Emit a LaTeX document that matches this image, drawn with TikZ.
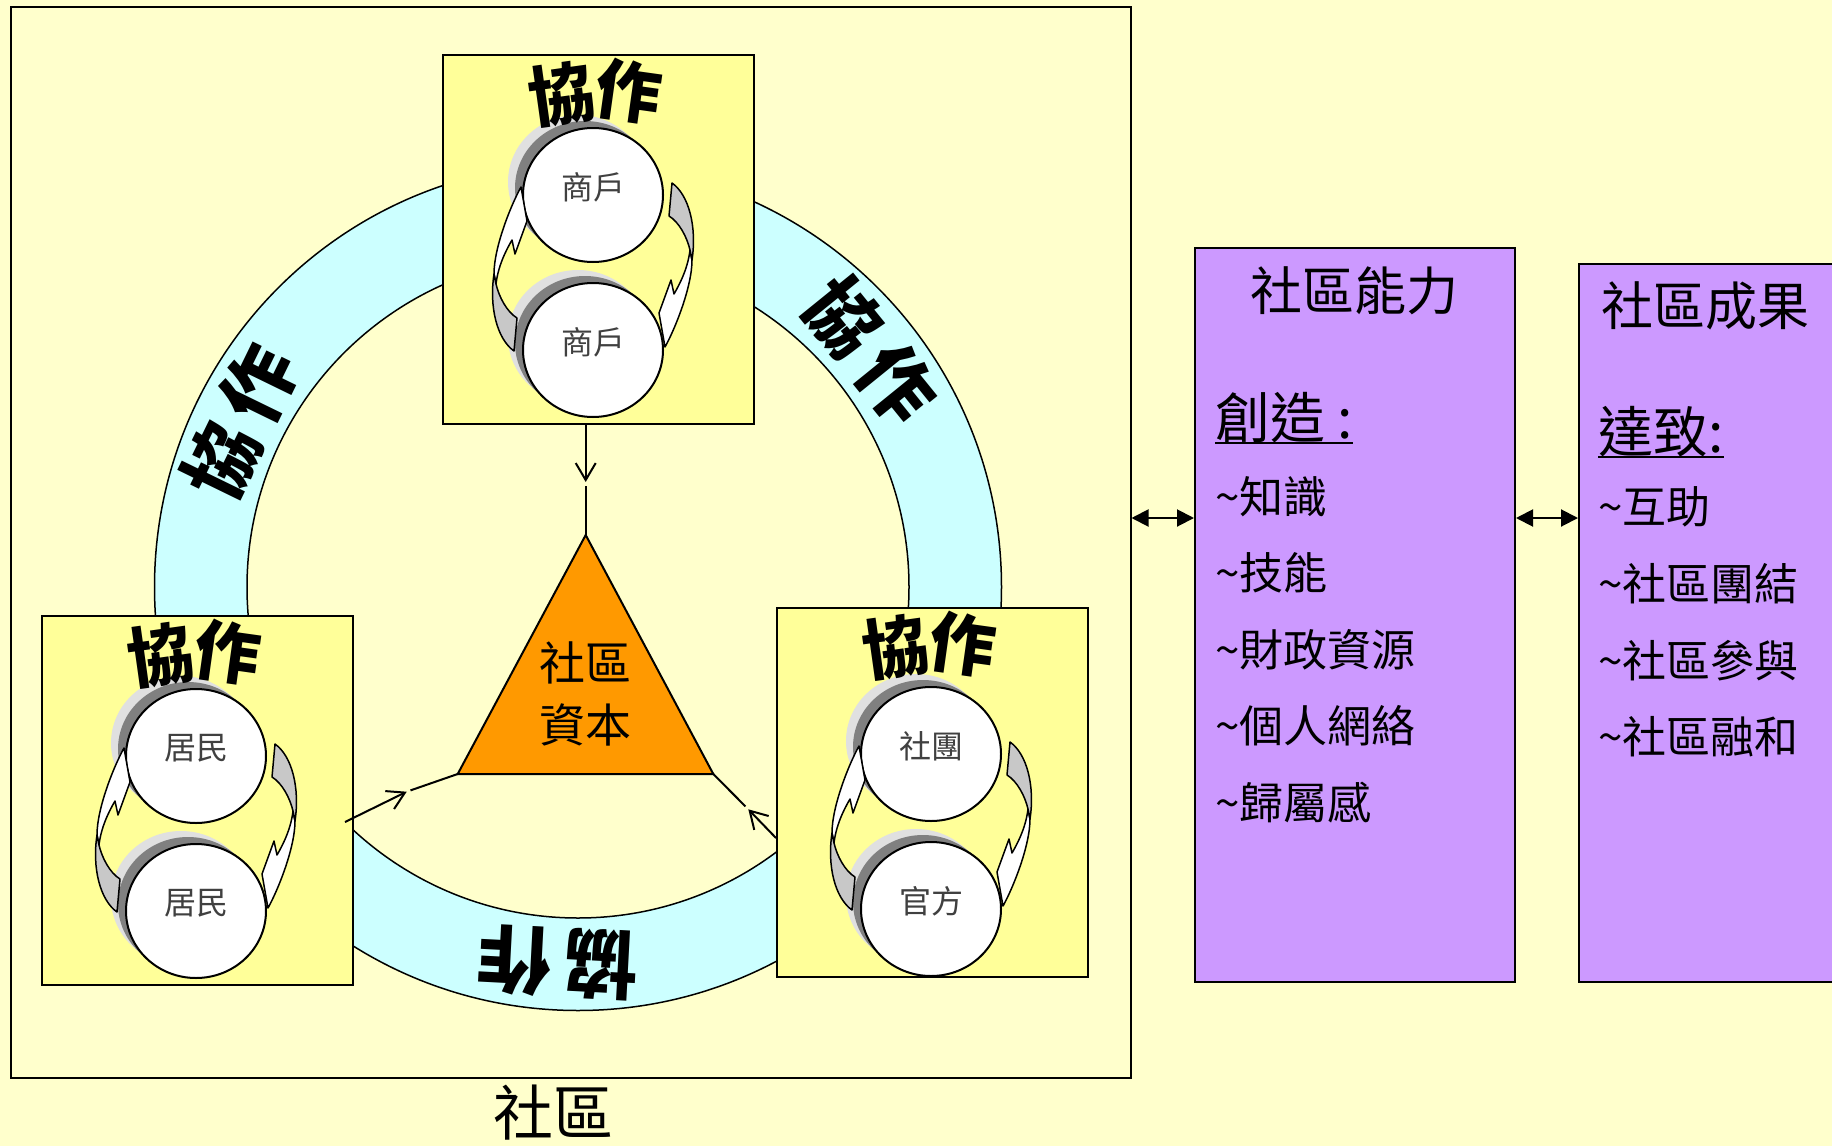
\documentclass[tikz,border=0pt]{standalone}
\usepackage{fontspec}
\setmainfont{Noto Sans CJK TC}
\usetikzlibrary{arrows.meta, calc, positioning}

\definecolor{paper}{HTML}{FFFFCC}
\definecolor{boxyellow}{HTML}{FFFF99}
\definecolor{ringcyan}{HTML}{CCFFFF}
\definecolor{capital}{HTML}{FF9900}
\definecolor{lilac}{HTML}{CC99FF}
\definecolor{shadelight}{HTML}{E0E0E0}
\definecolor{shadedark}{HTML}{808080}
\definecolor{backgray}{HTML}{C8C8C8}
\newcommand\wave{\textasciitilde}

\tikzset{
  collab/.style={draw, fill=boxyellow, line width=2pt, minimum width=311pt, minimum height=369pt, anchor=north west, inner sep=0},
  panel/.style={draw, fill=lilac, line width=2pt, anchor=north west, inner sep=0},
  teamword/.style={inner sep=0, font=\bfseries\fontsize{66}{66}\selectfont},
  ringword/.style={inner sep=0, font=\bfseries\fontsize{74}{74}\selectfont},
  member/.style={inner sep=0, text=black!75, font=\fontsize{32}{32}\selectfont},
  head/.style={inner sep=0, font=\fontsize{52}{52}\selectfont},
  topic/.style={inner sep=0, anchor=base west, font=\fontsize{55}{55}\selectfont},
  item/.style={inner sep=0, anchor=west, font=\fontsize{44}{44}\selectfont},
  link/.style={line width=2pt, -{Straight Barb[length=17pt, width=20pt]}},
  twoway/.style={line width=2pt, {Triangle[length=17pt, width=17pt]}-{Triangle[length=17pt, width=17pt]}},
  twist/.pic={
    \filldraw[fill=white, line width=1.5pt, line join=round]
      (-72,-80) -- (-66,-46) -- (-78,-13) -- (-81,-27)
      .. controls (-88,-15) and (-95,0) .. (-97,17) -- (-99,7)
      .. controls (-99,-20) and (-82,-62) .. (-72,-80) -- cycle;
    \filldraw[fill=backgray, line width=1.5pt, line join=round]
      (-99,7) .. controls (-104,40) and (-96,72) .. (-79,84) -- (-76,51)
      .. controls (-86,45) and (-94,30) .. (-97,17) -- cycle;
  }
}

\begin{document}
\begin{tikzpicture}[x=1pt, y=-1pt]
    \useasboundingbox (0,0) rectangle (1832,1146);
    \fill[paper] (0,0) rectangle (1832,1146);

    % community frame
    \node[draw, line width=2pt, minimum width=1120pt, minimum height=1071pt, anchor=north west, inner sep=0] (community) at (9.5,6) {};
    \node[font=\fontsize{60}{60}\selectfont, inner sep=0] (communityname) at (553,1113) {社區};

    % collaboration ring
    \coordinate (ringc) at (578,587);
    \filldraw[fill=ringcyan, line width=1.5pt, even odd rule] (ringc) circle (423.5pt) (ringc) circle (331pt);
    \foreach \a [count=\i] in {154, 39, -93}
        \node[ringword, rotate=\a-90] (ring-\i) at ($(ringc)+(\a:376pt)$) {協\hspace{12pt}作};

    % social capital
    \coordinate (capT) at (585.7,535);
    \coordinate (capL) at (457.7,774);
    \coordinate (capR) at (713.3,774);
    \filldraw[fill=capital, line width=2pt] (capT) -- (capL) -- (capR) -- cycle;
    \node[font=\fontsize{46}{62}\selectfont, align=center, inner sep=0] (capitalname) at (585.5,694) {社區\\資本};

    % partners
    \node[collab] (shops) at (442,54) {};
    \node[collab] (residents) at (41,615) {};
    \node[collab] (groups) at (776,607) {};
    \foreach \grp/\up/\low/\dx/\dy in {shops/商戶/商戶/-4/-6, residents/居民/居民/0/-6, groups/社團/官方/0/0}{
        \begin{scope}[shift={(\grp.north west)}]
            \begin{scope}[shift={(\dx,\dy)}]
                \fill[shadelight] (140,134) ellipse (70pt and 67pt);
                \fill[shadedark] (147,140) ellipse (70pt and 67pt);
                \filldraw[fill=white, line width=2pt] (155,147) ellipse (70pt and 67pt);
                \fill[shadelight] (140,289) ellipse (70pt and 67pt);
                \fill[shadedark] (147,295) ellipse (70pt and 67pt);
                \filldraw[fill=white, line width=2pt] (155,302) ellipse (70pt and 67pt);
                \node[member] (\grp-up) at (155,139) {\up};
                \node[member] (\grp-low) at (155,294) {\low};
                \pic at (155,219) {twist};
                \pic[rotate=180] at (155,219) {twist};
            \end{scope}
            \node[teamword, rotate=8] (\grp-w1) at (120,40) {協};
            \node[teamword, rotate=-8] (\grp-w2) at (187,37) {作};
        \end{scope}
    }

    % links to the capital
    \coordinate (tipTop) at (585.7,482);
    \coordinate (tipLeft) at (406.7,791.7);
    \coordinate (tipRight) at (748.3,809.3);
    \coordinate (fromRes) at (345,822);
    \draw[link] (shops.south -| capT) -- (tipTop);
    \draw[line width=2pt, shorten <=4pt] (tipTop) -- (capT);
    \draw[link] (fromRes) -- (tipLeft);
    \draw[line width=2pt, shorten <=4pt] (tipLeft) -- (capL);
    \draw[link] (groups.west |- 0,838) -- (tipRight);
    \draw[line width=2pt, shorten <=4pt] (tipRight) -- (capR);

    % capacity and outcome
    \node[panel, minimum width=320pt, minimum height=734.5pt] (capacity) at (1194,246.5) {};
    \node[panel, minimum width=300pt, minimum height=718pt] (outcome) at (1578,263) {};
    \draw[twoway] (community.east |- 0,518) -- (capacity.west |- 0,518);
    \draw[twoway] (capacity.east |- 0,518) -- (outcome.west |- 0,518);

    \node[head] (capacity-title) at (1354,291) {社區能力};
    \node[topic] (create) at (1215,438) {創造 :};
    \draw[line width=2pt] ([yshift=-5pt]create.base west) -- ([yshift=-5pt]create.base east);
    \foreach \t [count=\i] in {知識, 技能, 財政資源, 個人網絡, 歸屬感}
        \node[item] (skill-\i) at (1215,420.1+76.5*\i) {\wave\t};

    \node[head] (outcome-title) at (1705,306) {社區成果};
    \node[topic] (reach) at (1598,452) {達致:};
    \draw[line width=2pt] ([yshift=-5pt]reach.base west) -- ([yshift=-5pt]reach.base east);
    \foreach \t [count=\i] in {互助, 社區團結, 社區參與, 社區融和}
        \node[item] (gain-\i) at (1598,430.3+76.7*\i) {\wave\t};
\end{tikzpicture}
\end{document}
